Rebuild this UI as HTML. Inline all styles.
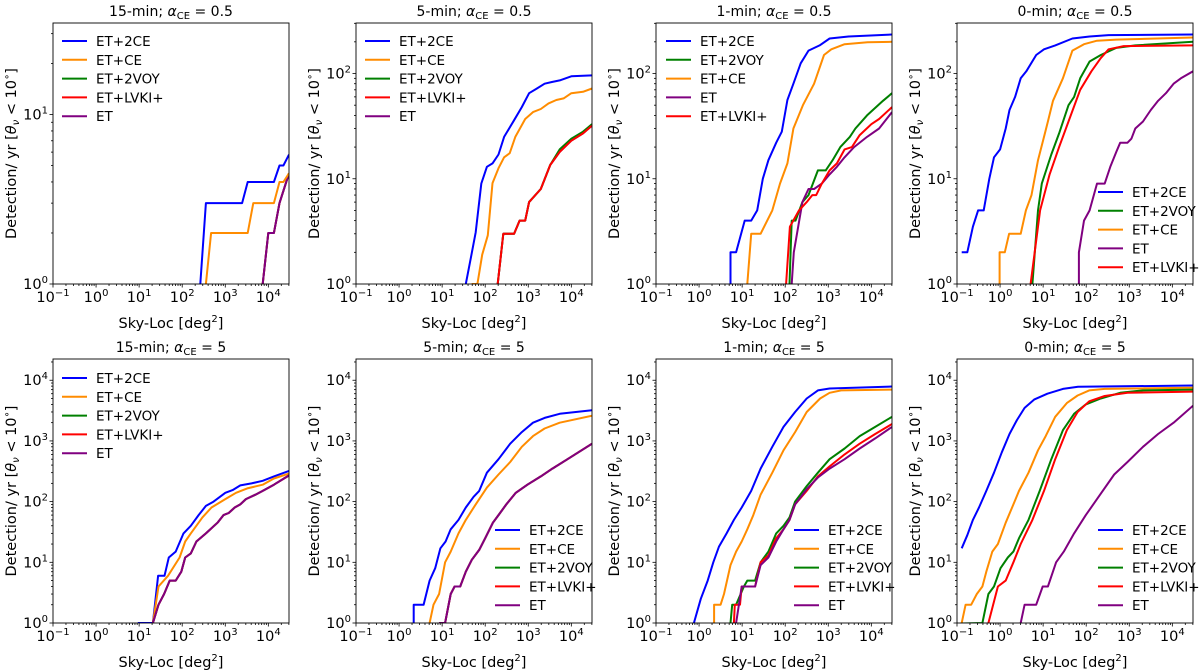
<!DOCTYPE html>
<html><head><meta charset="utf-8"><style>
html,body{margin:0;padding:0;background:#fff;}
svg{display:block;font-family:"DejaVu Sans","Liberation Sans",sans-serif;}
</style></head><body>
<svg id="fig" width="1200" height="672" viewBox="0 0 1200 672" xmlns="http://www.w3.org/2000/svg"></svg>
<script>
// x values are log10(Sky-Loc [deg^2]) exponents; y values are Detection/yr
const xTickExps = [-1, 0, 1, 2, 3, 4];
const yTickExpsTop1 = [0, 1];
const yTickExpsTop = [0, 1, 2];
const yTickExpsBottom = [0, 1, 2, 3, 4];
const seriesNames = ["ET+2CE", "ET+CE", "ET+2VOY", "ET+LVKI+", "ET"];

// Panel 1: 15-min, aCE=0.5
const p1_2CE = [[2.0,0.5],[2.42,0.5],[2.42,1],[2.55,3],[3.39,3],[3.52,4],[4.13,4],[4.26,5],[4.35,5],[4.48,5.8]];
const p1_CE = [[2.4,0.5],[2.55,0.5],[2.55,1],[2.67,2],[3.52,2],[3.65,3],[4.13,3],[4.26,4],[4.35,4],[4.48,4.5]];
const p1_2VOY = [[3.7,0.5],[3.87,1],[4.0,2],[4.13,2],[4.26,3],[4.48,4.5]];
const p1_LVKI = [[3.7,0.5],[3.87,1],[4.0,2],[4.13,2],[4.26,3],[4.48,4.5]];
const p1_ET = [[3.7,0.5],[3.87,1],[4.0,2],[4.13,2],[4.26,3],[4.48,4.5]];
// Panel 2: 5-min, aCE=0.5
const p2_2CE = [[1.5,0.5],[1.55,1],[1.67,1.8],[1.78,3.1],[1.91,9],[2.04,13],[2.17,14],[2.31,17],[2.44,25],[2.67,36],[2.85,48],[3.02,65],[3.2,72],[3.38,80],[3.55,83],[3.73,86],[4.0,94],[4.48,96]];
const p2_CE = [[1.6,0.5],[1.7,1],[1.82,1],[1.93,1.9],[2.06,2.9],[2.17,9.1],[2.31,12.6],[2.44,16],[2.57,17.5],[2.7,25],[2.93,37],[3.11,43],[3.29,46],[3.47,52],[3.65,56],[3.82,58],[4.0,65],[4.27,67],[4.48,72]];
const p2_2VOY = [[2.2,0.5],[2.29,1],[2.42,3],[2.67,3],[2.8,4],[2.93,4],[3.02,6],[3.29,8],[3.51,13.5],[3.73,19],[4.0,24],[4.27,28],[4.48,33]];
const p2_LVKI = [[2.2,0.5],[2.29,1],[2.42,3],[2.67,3],[2.8,4],[2.93,4],[3.02,6],[3.29,8],[3.51,13.5],[3.73,18],[4.0,23],[4.27,27],[4.48,32]];
const p2_ET = [[2.2,0.5],[2.29,1],[2.42,3],[2.67,3],[2.8,4],[2.93,4],[3.02,6],[3.29,8],[3.51,13.5],[3.73,18],[4.0,23],[4.27,27],[4.48,32]];
// Panel 3: 1-min, aCE=0.5
const p3_2CE = [[0.73,0.5],[0.73,2],[0.86,2],[1.06,4],[1.21,4],[1.35,5],[1.48,10],[1.61,15],[1.79,22],[1.92,28],[2.05,56],[2.19,80],[2.36,125],[2.54,165],[2.8,185],[3.03,215],[3.47,225],[4.48,235]];
const p3_CE = [[1.12,0.5],[1.12,1],[1.21,3],[1.43,3],[1.7,5],[1.88,9],[2.05,14],[2.19,30],[2.41,50],[2.67,80],[2.9,150],[3.07,170],[3.38,190],[3.91,198],[4.48,200]];
const p3_2VOY = [[2.1,0.5],[2.1,1],[2.15,4],[2.24,4],[2.4,6],[2.54,7],[2.76,12],[2.94,12],[3.1,15],[3.28,20],[3.5,25],[3.63,30],[3.9,40],[4.27,55],[4.48,65]];
const p3_LVKI = [[2.02,0.5],[2.02,1],[2.11,3.5],[2.32,5],[2.5,6],[2.63,7],[2.72,7],[2.85,9],[3.03,12],[3.2,14],[3.38,19],[3.55,20],[3.73,26],[4.0,33],[4.18,37],[4.48,48]];
const p3_ET = [[2.15,0.5],[2.15,1],[2.2,2],[2.4,6],[2.54,8],[2.67,8],[2.85,9],[3.03,11],[3.2,13],[3.38,16],[3.6,20],[3.9,25],[4.18,30],[4.48,43]];
// Panel 4: 0-min, aCE=0.5
const p4_2CE = [[-0.89,2],[-0.76,2],[-0.63,3.5],[-0.51,5],[-0.38,5],[-0.25,10],[-0.14,16],[0.0,19],[0.13,30],[0.22,45],[0.35,60],[0.48,90],[0.61,105],[0.84,150],[1.02,170],[1.28,185],[1.68,215],[2.08,225],[2.52,232],[4.48,235]];
const p4_CE = [[-0.01,0.5],[-0.01,2],[0.11,2],[0.21,3],[0.48,3],[0.6,5],[0.73,7],[0.88,15],[1.02,25],[1.11,35],[1.23,55],[1.46,90],[1.68,165],[1.95,190],[2.25,205],[2.7,210],[4.48,220]];
const p4_2VOY = [[0.75,0.5],[0.75,1],[0.88,5],[0.97,9],[1.19,17],[1.37,27],[1.59,50],[1.72,60],[1.86,90],[2.08,130],[2.34,150],[2.7,175],[3.14,185],[4.48,200]];
const p4_LVKI = [[0.71,0.5],[0.71,1],[0.93,5],[1.15,11],[1.37,20],[1.59,35],[1.86,70],[2.12,105],[2.34,140],[2.52,170],[2.87,182],[4.48,185]];
const p4_ET = [[1.83,0.5],[1.83,2],[1.95,4],[2.08,5],[2.25,9],[2.43,9],[2.56,13],[2.7,18],[2.79,22],[2.96,22],[3.05,24],[3.14,30],[3.32,35],[3.5,45],[3.67,55],[3.85,65],[4.03,80],[4.2,90],[4.48,105]];
// Panel 5: 15-min, aCE=5
const p5_2CE = [[0.97,1],[1.32,1],[1.44,6],[1.59,6],[1.69,12],[1.85,15],[2.03,30],[2.2,40],[2.38,60],[2.55,85],[2.73,100],[3.0,140],[3.17,155],[3.35,185],[3.61,200],[3.87,220],[4.13,260],[4.48,320]];
const p5_CE = [[1.32,1],[1.45,4],[1.67,6],[1.94,12],[2.07,22],[2.2,30],[2.47,55],[2.68,80],[3.0,110],[3.25,140],[3.51,165],[3.87,190],[4.13,240],[4.48,290]];
const p5_2VOY = [[1.32,1],[1.45,2],[1.58,3],[1.71,5],[1.85,5],[1.98,7],[2.07,12],[2.2,14],[2.33,22],[2.55,30],[2.82,45],[2.96,60],[3.08,65],[3.22,80],[3.35,90],[3.48,110],[3.7,130],[3.87,150],[4.13,190],[4.48,270]];
const p5_LVKI = [[1.32,1],[1.45,2],[1.58,3],[1.71,5],[1.85,5],[1.98,7],[2.07,12],[2.2,14],[2.33,22],[2.55,30],[2.82,45],[2.96,60],[3.08,65],[3.22,80],[3.35,90],[3.48,110],[3.7,130],[3.87,150],[4.13,190],[4.48,270]];
const p5_ET = [[1.32,1],[1.45,2],[1.58,3],[1.71,5],[1.85,5],[1.98,7],[2.07,12],[2.2,14],[2.33,22],[2.55,30],[2.82,45],[2.96,60],[3.08,65],[3.22,80],[3.35,90],[3.48,110],[3.7,130],[3.87,150],[4.13,190],[4.48,270]];
// Panel 6: 5-min, aCE=5
const p6_2CE = [[0.34,0.5],[0.34,2],[0.57,2],[0.71,5],[0.84,8],[0.96,17],[1.08,22],[1.2,35],[1.38,50],[1.55,80],[1.73,120],[1.86,150],[2.04,300],[2.31,500],[2.58,900],[2.85,1400],[3.11,2000],[3.38,2400],[3.73,2800],[4.48,3200]];
const p6_CE = [[0.71,0.5],[0.71,1],[0.8,2],[0.93,3],[1.07,10],[1.2,15],[1.38,30],[1.55,50],[1.78,90],[2.04,170],[2.31,280],[2.58,450],[2.85,800],[3.11,1200],[3.38,1600],[3.73,2000],[4.48,2600]];
const p6_2VOY = [[0.93,1],[1.07,1],[1.2,3],[1.29,4],[1.42,4],[1.55,7],[1.69,11],[1.86,16],[2.0,25],[2.18,45],[2.31,60],[2.49,90],[2.71,140],[2.98,190],[3.29,260],[3.56,350],[3.91,500],[4.48,900]];
const p6_LVKI = [[0.93,1],[1.07,1],[1.2,3],[1.29,4],[1.42,4],[1.55,7],[1.69,11],[1.86,16],[2.0,25],[2.18,45],[2.31,60],[2.49,90],[2.71,140],[2.98,190],[3.29,260],[3.56,350],[3.91,500],[4.48,900]];
const p6_ET = [[0.93,1],[1.07,1],[1.2,3],[1.29,4],[1.42,4],[1.55,7],[1.69,11],[1.86,16],[2.0,25],[2.18,45],[2.31,60],[2.49,90],[2.71,140],[2.98,190],[3.29,260],[3.56,350],[3.91,500],[4.48,900]];
// Panel 7: 1-min, aCE=5
const p7_2CE = [[-0.12,1],[0.04,2.5],[0.2,5],[0.33,10],[0.46,18],[0.64,30],[0.81,50],[0.99,80],[1.21,150],[1.43,350],[1.7,800],[1.96,1700],[2.23,3000],[2.5,5000],[2.76,6800],[3.03,7300],[4.48,7900]];
const p7_CE = [[0.35,0.5],[0.35,2],[0.5,2],[0.58,3],[0.73,9],[0.86,15],[0.99,22],[1.12,35],[1.26,60],[1.43,130],[1.7,300],[1.96,700],[2.23,1400],[2.5,3000],[2.81,5000],[3.03,6200],[3.3,6800],[4.48,7000]];
const p7_2VOY = [[0.73,0.5],[0.73,1],[0.77,2],[0.86,2],[1.04,4],[1.12,5],[1.3,5],[1.43,10],[1.61,15],[1.79,30],[1.96,40],[2.1,55],[2.23,100],[2.5,180],[2.76,300],[3.03,500],[3.38,750],[3.73,1200],[4.09,1700],[4.48,2500]];
const p7_LVKI = [[0.81,0.5],[0.81,1],[0.83,2],[0.95,2],[0.99,4],[1.3,4],[1.43,10],[1.61,13],[1.79,25],[1.96,35],[2.1,50],[2.23,90],[2.5,150],[2.76,260],[3.03,380],[3.38,600],[3.73,900],[4.09,1300],[4.48,1900]];
const p7_ET = [[0.86,0.5],[0.86,1],[0.99,4],[1.3,4],[1.43,9],[1.61,12],[1.79,22],[1.96,35],[2.1,50],[2.23,90],[2.5,160],[2.76,250],[3.03,350],[3.38,500],[3.73,750],[4.09,1100],[4.48,1700]];
// Panel 8: 0-min, aCE=5
const p8_2CE = [[-0.89,17],[-0.76,28],[-0.63,50],[-0.49,80],[-0.32,150],[-0.14,300],[0.04,650],[0.22,1300],[0.39,2200],[0.57,3500],[0.79,4800],[1.1,6000],[1.46,7200],[1.81,7800],[4.48,8200]];
const p8_CE = [[-0.89,1],[-0.8,2],[-0.67,2],[-0.54,3],[-0.41,4],[-0.32,7],[-0.18,15],[-0.05,20],[0.13,45],[0.31,90],[0.44,150],[0.66,300],[0.88,700],[1.06,1200],[1.28,2500],[1.55,4200],[1.8,5600],[2.07,6800],[2.43,7200],[4.48,7500]];
const p8_2VOY = [[-0.89,0.98],[-0.41,1],[-0.27,3],[-0.14,4],[0.01,8],[0.18,12],[0.31,15],[0.44,25],[0.66,50],[0.92,150],[1.19,500],[1.46,1500],[1.72,2800],[1.99,4000],[2.34,5000],[2.79,6200],[3.32,6800],[4.48,7000]];
const p8_LVKI = [[-0.27,0.5],[-0.27,1],[-0.05,4],[0.13,5],[0.31,10],[0.48,20],[0.75,50],[1.02,150],[1.28,500],[1.55,1500],[1.8,3000],[2.07,4500],[2.43,5500],[2.96,6200],[4.48,6500]];
const p8_ET = [[0.48,0.5],[0.48,1],[0.57,2],[0.84,2],[0.99,4],[1.11,4],[1.3,10],[1.48,15],[1.72,30],[1.99,60],[2.25,110],[2.65,280],[2.96,450],[3.32,800],[3.67,1300],[4.03,2000],[4.48,3800]];

const COLORS = {"ET+2CE":"#0000ff","ET+CE":"#ff8c00","ET+2VOY":"#008000","ET+LVKI+":"#ff0000","ET":"#800080"};
const NS = "http://www.w3.org/2000/svg";
const svg = document.getElementById('fig');
function mk(tag, attrs, parent){ const e=document.createElementNS(NS,tag); for(const k in attrs) e.setAttribute(k,attrs[k]); (parent||svg).appendChild(e); return e; }

const panels = [
 {t:"15-min", a:"0.5", L:53, T:23, B:284, ymax:1.54, yt:yTickExpsTop1, s:{"ET+2CE":p1_2CE,"ET+CE":p1_CE,"ET+2VOY":p1_2VOY,"ET+LVKI+":p1_LVKI,"ET":p1_ET}, draw:["ET+2VOY","ET+LVKI+","ET","ET+CE","ET+2CE"], leg:["ET+2CE","ET+CE","ET+2VOY","ET+LVKI+","ET"], lx:62, ly:41},
 {t:"5-min", a:"0.5", L:356, T:23, B:284, ymax:2.48, yt:yTickExpsTop, s:{"ET+2CE":p2_2CE,"ET+CE":p2_CE,"ET+2VOY":p2_2VOY,"ET+LVKI+":p2_LVKI,"ET":p2_ET}, draw:["ET","ET+2VOY","ET+LVKI+","ET+CE","ET+2CE"], leg:["ET+2CE","ET+CE","ET+2VOY","ET+LVKI+","ET"], lx:365, ly:41},
 {t:"1-min", a:"0.5", L:656, T:23, B:284, ymax:2.48, yt:yTickExpsTop, s:{"ET+2CE":p3_2CE,"ET+CE":p3_CE,"ET+2VOY":p3_2VOY,"ET+LVKI+":p3_LVKI,"ET":p3_ET}, draw:["ET+2CE","ET+2VOY","ET+CE","ET","ET+LVKI+"], leg:["ET+2CE","ET+2VOY","ET+CE","ET","ET+LVKI+"], lx:666, ly:41},
 {t:"0-min", a:"0.5", L:957, T:23, B:284, ymax:2.48, yt:yTickExpsTop, s:{"ET+2CE":p4_2CE,"ET+CE":p4_CE,"ET+2VOY":p4_2VOY,"ET+LVKI+":p4_LVKI,"ET":p4_ET}, draw:["ET+2CE","ET+2VOY","ET+CE","ET","ET+LVKI+"], leg:["ET+2CE","ET+2VOY","ET+CE","ET","ET+LVKI+"], lx:1098, ly:192},
 {t:"15-min", a:"5", L:53, T:359, B:623, ymax:4.35, yt:yTickExpsBottom, s:{"ET+2CE":p5_2CE,"ET+CE":p5_CE,"ET+2VOY":p5_2VOY,"ET+LVKI+":p5_LVKI,"ET":p5_ET}, draw:["ET+2CE","ET+CE","ET+2VOY","ET+LVKI+","ET"], leg:["ET+2CE","ET+CE","ET+2VOY","ET+LVKI+","ET"], lx:62, ly:378},
 {t:"5-min", a:"5", L:356, T:359, B:623, ymax:4.35, yt:yTickExpsBottom, s:{"ET+2CE":p6_2CE,"ET+CE":p6_CE,"ET+2VOY":p6_2VOY,"ET+LVKI+":p6_LVKI,"ET":p6_ET}, draw:["ET+2CE","ET+CE","ET+2VOY","ET+LVKI+","ET"], leg:["ET+2CE","ET+CE","ET+2VOY","ET+LVKI+","ET"], lx:495, ly:530},
 {t:"1-min", a:"5", L:656, T:359, B:623, ymax:4.35, yt:yTickExpsBottom, s:{"ET+2CE":p7_2CE,"ET+CE":p7_CE,"ET+2VOY":p7_2VOY,"ET+LVKI+":p7_LVKI,"ET":p7_ET}, draw:["ET+2CE","ET+CE","ET+2VOY","ET+LVKI+","ET"], leg:["ET+2CE","ET+CE","ET+2VOY","ET+LVKI+","ET"], lx:794, ly:530},
 {t:"0-min", a:"5", L:957, T:359, B:623, ymax:4.35, yt:yTickExpsBottom, s:{"ET+2CE":p8_2CE,"ET+CE":p8_CE,"ET+2VOY":p8_2VOY,"ET+LVKI+":p8_LVKI,"ET":p8_ET}, draw:["ET+2CE","ET+CE","ET+2VOY","ET+LVKI+","ET"], leg:["ET+2CE","ET+CE","ET+2VOY","ET+LVKI+","ET"], lx:1098, ly:530}
];
const W = 236, XMIN = -1, XMAX = 4.48;

panels.forEach((p, i) => {
  const g = mk('g', {});
  
  
  const H = p.B - p.T;
  const xs = e => p.L + (e - XMIN) / (XMAX - XMIN) * W;
  const ys = v => p.B - Math.log10(v) / p.ymax * H;
  const ye = e => p.B - e / p.ymax * H;
  const clip = mk('clipPath', {id:'c'+i}, g);
  mk('rect', {x:p.L, y:p.T, width:W, height:H}, clip);
  p.draw.forEach(name => {
    const pts = p.s[name].map(d => xs(d[0]).toFixed(1) + ',' + ys(d[1]).toFixed(1)).join(' ');
    const pl = mk('polyline', {points:pts, fill:'none', stroke:COLORS[name], 'stroke-width':2, 'stroke-linejoin':'round', 'clip-path':'url(#c'+i+')'}, g);
    
    
  });
  const fr = mk('rect', {x:p.L, y:p.T, width:W, height:H, fill:'none', stroke:'#000', 'stroke-width':0.9}, g);
  
  
  for (let d = -1; d <= 4; d++) {
    for (let m = 1; m <= 9; m++) {
      const e = d + Math.log10(m);
      if (e > XMAX) continue;
      const x = xs(e);
      mk('line', {x1:x, x2:x, y1:p.B, y2:p.B + (m===1?3.5:2), stroke:'#000', 'stroke-width':0.8}, g);
    }
  }
  xTickExps.forEach(e => {
    const t = mk('text', {x:xs(e), y:p.B + 18, 'text-anchor':'middle', 'font-size':14.5}, g);
    
    
    t.appendChild(document.createTextNode('10'));
    const s = mk('tspan', {dy:-6, 'font-size':10}, t);
    s.textContent = e < 0 ? '\u2212' + (-e) : String(e);
  });
  for (let d = 0; d <= 4; d++) {
    for (let m = 1; m <= 9; m++) {
      const e = d + Math.log10(m);
      if (e > p.ymax) continue;
      const y = ye(e);
      mk('line', {x1:p.L, x2:p.L - (m===1?3.5:2), y1:y, y2:y, stroke:'#000', 'stroke-width':0.8}, g);
    }
  }
  p.yt.forEach(e => {
    const t = mk('text', {x:p.L - 5, y:ye(e) + 5, 'text-anchor':'end', 'font-size':14.5}, g);
    
    
    t.appendChild(document.createTextNode('10'));
    const s = mk('tspan', {dy:-6, 'font-size':10}, t);
    s.textContent = String(e);
  });
  const tt = mk('text', {x:p.L + W/2, y:p.T - 7, 'text-anchor':'middle', 'font-size':14}, g);
  
  
  tt.appendChild(document.createTextNode(p.t + '; '));
  const al = mk('tspan', {'font-style':'italic'}, tt); al.textContent = '\u03b1';
  const sb = mk('tspan', {dy:3, 'font-size':10}, tt); sb.textContent = 'CE';
  const rest = mk('tspan', {dy:-3}, tt); rest.textContent = ' = ' + p.a;
  const xl = mk('text', {x:p.L + W/2, y:p.B + 44, 'text-anchor':'middle', 'font-size':14.5}, g);
  
  
  xl.appendChild(document.createTextNode('Sky-Loc [deg'));
  const sp = mk('tspan', {dy:-6, 'font-size':10}, xl); sp.textContent = '2';
  const sp2 = mk('tspan', {dy:6}, xl); sp2.textContent = ']';
  const cy = (p.T + p.B) / 2, cx = p.L - 37;
  const yl = mk('text', {x:cx, y:cy, 'text-anchor':'middle', 'font-size':14.5, transform:'rotate(-90 '+cx+' '+cy+')'}, g);
  
  
  yl.appendChild(document.createTextNode('Detection/ yr ['));
  const th = mk('tspan', {'font-style':'italic'}, yl); th.textContent = '\u03b8';
  const nu = mk('tspan', {dy:3, 'font-size':10, 'font-style':'italic'}, yl); nu.textContent = '\u03bd';
  const r1 = mk('tspan', {dy:-3}, yl); r1.textContent = ' < 10';
  const dg = mk('tspan', {dy:-6, 'font-size':10}, yl); dg.textContent = '\u2218';
  const r2 = mk('tspan', {dy:6}, yl); r2.textContent = ']';
  const lg = mk('g', {}, g);
  
  
  p.leg.forEach((name, k) => {
    const y = p.ly + k * 18.8;
    const en = mk('g', {}, lg);
    
    
    mk('line', {x1:p.lx, x2:p.lx + 25, y1:y, y2:y, stroke:COLORS[name], 'stroke-width':2}, en);
    const tx = mk('text', {x:p.lx + 34, y:y + 5, 'font-size':13.5}, en);
    tx.textContent = name;
  });
});
</script>
</body></html>
